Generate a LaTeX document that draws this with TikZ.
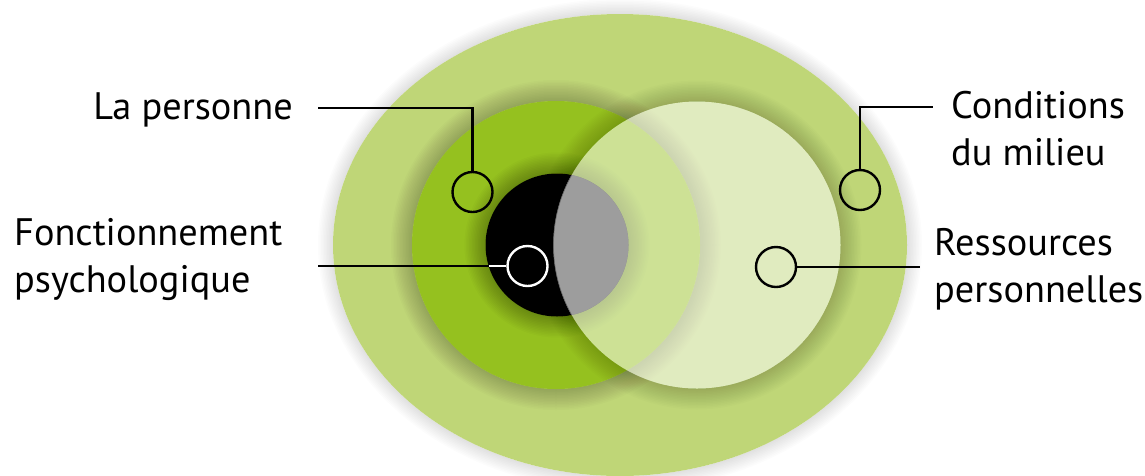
\documentclass[tikz,border=0pt]{standalone}
\usepackage{fontspec}
\setmainfont{PT Sans}
\definecolor{outergreen}{HTML}{BFD677}
\definecolor{persongreen}{HTML}{95C11F}
\definecolor{lensgray}{HTML}{9D9D9D}
\tikzset{
  lbl/.style={font=\fontsize{38.3}{47}\selectfont, inner sep=0pt, align=left},
  marker/.style={circle, draw=black, line width=2.4pt, minimum size=40pt, inner sep=0pt},
  whitemarker/.style={marker, draw=white},
  lead/.style={draw=black, line width=2.4pt},
  whitelead/.style={draw=white, line width=2.4pt},
}
% soft halo around a disc: stacked translucent rings just outside its rim
\newcommand{\halo}[4]{% centre x, centre y, radius, opacity per ring
  \foreach \k in {1,...,14}{
    \fill[black, opacity=#4, even odd rule]
      (#1,#2) circle (#3+1.5*\k)
      (#1,#2) circle (#3);
  }}
\begin{document}
\begin{tikzpicture}[x=1pt, y=-1pt]
  \useasboundingbox (0,0) rectangle (1145,475);
  \fill[white] (0,0) rectangle (1145,475);
  \begin{scope}
    \clip (0,0) rectangle (1145,475);
    % surrounding conditions
    \foreach \k in {1,...,10}{
      \fill[black, opacity=0.01, even odd rule]
        (620,245) ellipse [x radius=287+1.5*\k, y radius=231+1.5*\k]
        (620,245) ellipse [x radius=287, y radius=231];
    }
    \fill[outergreen] (620,245) ellipse [x radius=287, y radius=231];
    % the person
    \halo{556}{245}{144}{0.016}
    \fill[persongreen] (556,245) circle (144);
    % psychological functioning
    \halo{557}{245}{71.5}{0.02}
    \fill[black] (557,245) circle (71.5);
    % personal resources
    \halo{697}{245}{143.5}{0.013}
    \fill[white, opacity=0.53] (697,245) circle (143.5);
    \begin{scope}
      \clip (557,245) circle (71.5);
      \fill[lensgray] (697,245) circle (143.5);
      \draw[black!60, line width=0.6pt] (697,245) circle (143.5);
    \end{scope}
  \end{scope}

  % markers
  \node[marker] (mP) at (472.5,192) {};
  \node[whitemarker] (mF) at (527.5,266) {};
  \node[marker] (mC) at (860,190) {};
  \node[marker] (mR) at (776,267) {};

  % labels (base anchor sits on the last line)
  \node[lbl, anchor=base east] (tP) at (293,119) {La personne};
  \node[lbl, anchor=base west] (tF) at (14,292) {Fonctionnement\\psychologique};
  \node[lbl, anchor=base west] (tC) at (951,165) {Conditions\\du milieu};
  \node[lbl, anchor=base west] (tR) at (934,302) {Ressources\\personnelles};

  % leader lines
  \coordinate (eP) at (318,108);
  \coordinate (jF) at (489,266);
  \coordinate (eF) at (318,266);
  \coordinate (eC) at (933,107);
  \coordinate (eR) at (920,267);
  \draw[lead] (mP.north) |- (eP);
  \draw[whitelead] (mF.west) -- (jF);
  \draw[lead] (jF) -- (eF);
  \draw[lead] (mC.north) |- (eC);
  \draw[lead] (mR.east) -- (eR);
\end{tikzpicture}
\end{document}
